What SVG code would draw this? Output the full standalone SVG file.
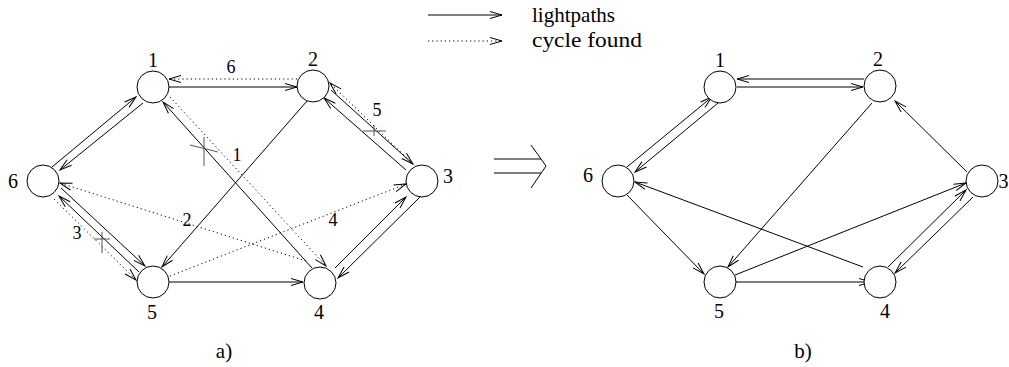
<svg xmlns="http://www.w3.org/2000/svg" width="1009" height="367" viewBox="0 0 1009 367">
<style>
.n{fill:#fff;stroke:#000;stroke-width:1}
.t{font-family:"Liberation Serif","Times New Roman",serif;font-size:20px;fill:#000;text-anchor:middle}
.el{font-family:"Liberation Serif","Times New Roman",serif;font-size:18px;fill:#000;text-anchor:middle}
.lg{font-family:"Liberation Serif","Times New Roman",serif;font-size:21px;fill:#000}
.e{stroke:#000;stroke-width:1;fill:none;marker-end:url(#ah)}
.d{stroke:#000;stroke-width:1;fill:none;stroke-dasharray:1.2,3;marker-end:url(#ah)}
.x{stroke:#555;stroke-width:1;fill:none}
</style>
<defs>
<marker id="ah" markerUnits="userSpaceOnUse" markerWidth="14" markerHeight="9" refX="12" refY="3.5" orient="auto" overflow="visible">
<path d="M0,0 L12,3.5 L0,7" fill="none" stroke="#000" stroke-width="1"/>
</marker>
</defs>
<rect width="1009" height="367" fill="#fff"/>

<g id="legend">
<line class="e" x1="428" y1="15" x2="502" y2="15"/>
<text class="lg" x="532" y="22" textLength="83" lengthAdjust="spacingAndGlyphs">lightpaths</text>
<line class="d" x1="428" y1="41" x2="502" y2="41"/>
<text class="lg" x="532" y="47" textLength="110" lengthAdjust="spacingAndGlyphs">cycle found</text>
</g>

<g id="connectors">
<!-- part a -->
<line class="e" x1="169" y1="87" x2="297" y2="87"/>
<line class="d" x1="297" y1="79" x2="169" y2="79"/>
<line class="e" x1="52" y1="167" x2="136" y2="97"/>
<line class="e" x1="143" y1="103" x2="60" y2="170"/>
<line class="e" x1="61" y1="188" x2="145" y2="266"/>
<line class="e" x1="139" y1="272" x2="59" y2="196"/>
<line class="d" x1="54" y1="199" x2="136" y2="280"/>
<line class="e" x1="307" y1="101" x2="162" y2="267"/>
<line class="e" x1="312" y1="268" x2="163" y2="102"/>
<line class="d" x1="170" y1="97" x2="326" y2="266"/>
<line class="d" x1="306" y1="261" x2="60" y2="183"/>
<line class="d" x1="170" y1="276" x2="406" y2="184"/>
<line class="d" x1="416" y1="167" x2="330" y2="83"/>
<line class="e" x1="331" y1="90" x2="413" y2="164"/>
<line class="e" x1="406" y1="170" x2="324" y2="98"/>
<line class="e" x1="335" y1="268" x2="406" y2="197"/>
<line class="e" x1="420" y1="197" x2="338" y2="278"/>
<line class="e" x1="169" y1="282" x2="303" y2="282"/>
<!-- crosses -->
<line class="x" x1="204" y1="137" x2="204" y2="166"/>
<line class="x" x1="190" y1="145" x2="218" y2="152"/>
<line class="x" x1="363" y1="131" x2="386" y2="131"/>
<line class="x" x1="374" y1="125" x2="374" y2="136"/>
<line class="x" x1="102" y1="232" x2="102" y2="253"/>
<line class="x" x1="94" y1="239" x2="110" y2="239"/>
<!-- implies -->
<line stroke="#000" x1="494" y1="159" x2="541" y2="159"/>
<line stroke="#000" x1="494" y1="173" x2="541" y2="173"/>
<polyline points="531,145 546,166 531,188" fill="none" stroke="#000"/>
<!-- part b -->
<line class="e" x1="864" y1="79" x2="737" y2="79"/>
<line class="e" x1="737" y1="87" x2="863" y2="87"/>
<line class="e" x1="627" y1="167" x2="712" y2="97"/>
<line class="e" x1="718" y1="103" x2="635" y2="172"/>
<line class="e" x1="627" y1="195" x2="704" y2="274"/>
<line class="e" x1="863" y1="267" x2="635" y2="182"/>
<line class="e" x1="872" y1="103" x2="728" y2="267"/>
<line class="e" x1="735" y1="275" x2="966" y2="183"/>
<line class="e" x1="967" y1="172" x2="895" y2="101"/>
<line class="e" x1="888" y1="267" x2="966" y2="190"/>
<line class="e" x1="973" y1="197" x2="895" y2="273"/>
<line class="e" x1="736" y1="282" x2="871" y2="282"/>
</g>

<g id="edge-labels">
<text class="el" x="231" y="73">6</text>
<text class="el" x="237" y="161">1</text>
<text class="el" x="187" y="226">2</text>
<text class="el" x="77" y="239">3</text>
<text class="el" x="333" y="226">4</text>
<text class="el" x="377" y="116">5</text>
</g>

<g id="a1"><circle class="n" cx="153" cy="87" r="16"/><text class="t" x="153" y="67">1</text></g>
<g id="a2"><circle class="n" cx="313" cy="86" r="16"/><text class="t" x="313" y="66">2</text></g>
<g id="a3"><circle class="n" cx="422" cy="181" r="16"/><text class="t" x="448" y="183">3</text></g>
<g id="a4"><circle class="n" cx="320" cy="283" r="16"/><text class="t" x="319" y="319">4</text></g>
<g id="a5"><circle class="n" cx="153" cy="282" r="16"/><text class="t" x="152" y="319">5</text></g>
<g id="a6"><circle class="n" cx="43" cy="181" r="16"/><text class="t" x="13" y="188">6</text></g>
<g id="label-a"><text class="t" x="224" y="358" style="font-size:21px">a)</text></g>

<g id="b1"><circle class="n" cx="720" cy="87" r="16"/><text class="t" x="720" y="67">1</text></g>
<g id="b2"><circle class="n" cx="880" cy="86" r="16"/><text class="t" x="878" y="66">2</text></g>
<g id="b3"><circle class="n" cx="982" cy="181" r="16"/><text class="t" x="1003.5" y="188">3</text></g>
<g id="b4"><circle class="n" cx="880" cy="282" r="16"/><text class="t" x="885" y="318">4</text></g>
<g id="b5"><circle class="n" cx="720" cy="282" r="16"/><text class="t" x="719" y="318">5</text></g>
<g id="b6"><circle class="n" cx="618" cy="181" r="16"/><text class="t" x="588" y="182">6</text></g>
<g id="label-b"><text class="t" x="803" y="358" style="font-size:21px">b)</text></g>
</svg>
